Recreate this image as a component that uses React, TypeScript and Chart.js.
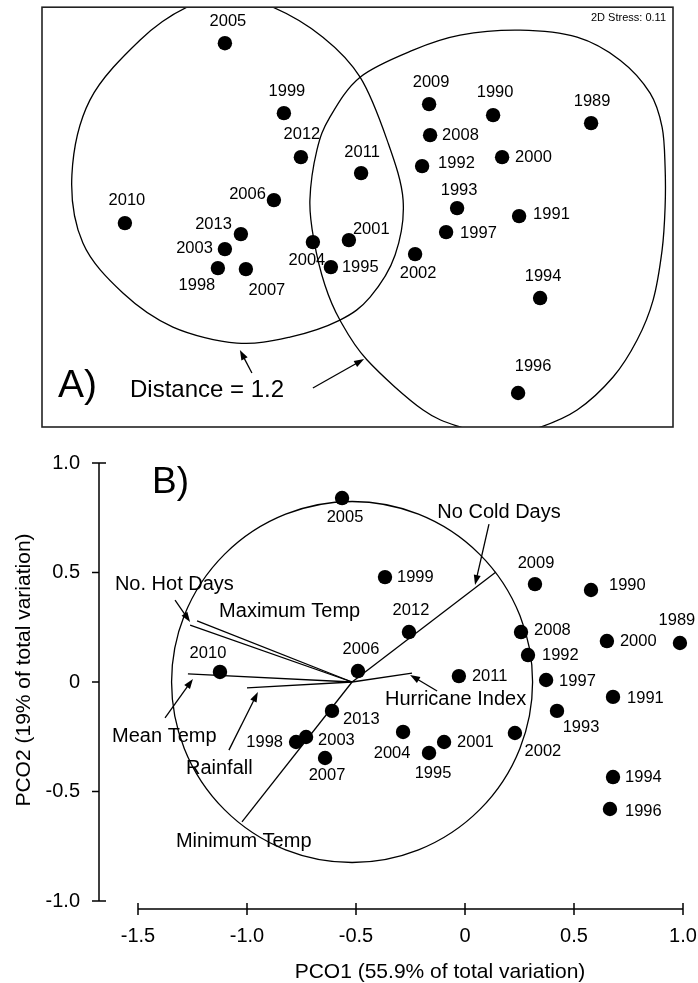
import React, { useEffect, useRef } from 'react';
import { Chart, registerables } from 'chart.js';
Chart.register(...registerables);

const FONT = '"Liberation Sans", Arial, Helvetica, sans-serif';

// ---------------- Panel A (nMDS) data ----------------
const yearsA = ['2005','1999','2012','2011','2006','2010','2013','2003','1998','2007','2004','1995','2001','2009','1990','1989','2008','2000','1992','1993','1991','1997','2002','1994','1996'];
const nmds1 = [-0.663,-0.368,-0.283,0.018,-0.418,-1.163,-0.583,-0.663,-0.698,-0.558,-0.223,-0.133,-0.043,0.358,0.678,1.168,0.363,0.723,0.323,0.498,0.808,0.443,0.288,0.913,0.803];
const nmds2 = [0.87,0.52,0.30,0.22,0.085,-0.03,-0.085,-0.16,-0.255,-0.26,-0.125,-0.25,-0.115,0.565,0.51,0.47,0.41,0.30,0.255,0.045,0.005,-0.075,-0.185,-0.405,-0.88];
const stressText = '2D Stress: 0.11';
// cluster contours at distance 1.2
const leftContourX = [-0.638,-0.423,-0.173,0.013,0.148,0.228,0.188,0.063,-0.088,-0.338,-0.603,-0.923,-1.173,-1.373,-1.428,-1.338,-1.088,-0.853];
const leftContourY = [1.10,1.05,0.90,0.70,0.385,0.085,-0.19,-0.40,-0.515,-0.60,-0.63,-0.55,-0.38,-0.13,0.21,0.585,0.885,1.05];
const rightContourX = [0.813,1.098,1.313,1.463,1.523,1.538,1.538,1.523,1.478,1.398,1.278,1.098,0.903,0.713,0.528,0.328,0.048,-0.088,-0.163,-0.218,-0.238,-0.203,-0.138,0.013,0.278,0.513];
const rightContourY = [0.935,0.90,0.785,0.62,0.45,0.25,0.05,-0.165,-0.415,-0.615,-0.80,-0.965,-1.055,-1.10,-1.055,-0.965,-0.715,-0.515,-0.34,-0.115,0.085,0.335,0.50,0.70,0.835,0.91];
const distanceText = 'Distance = 1.2';
const distArrowFrom = [[-0.528,-0.78],[-0.223,-0.855]];
const distArrowTo = [[-0.588,-0.665],[0.033,-0.71]];

// ---------------- Panel B (PCO) data ----------------
const yearsB = ['2005','1999','2012','2006','2009','1990','2008','2000','1989','1992','2011','1997','1991','1993','2013','2004','2001','1995','2002','1994','1996','2010','1998','2003','2007'];
const pco1 = [-0.564,-0.367,-0.257,-0.491,0.321,0.578,0.257,0.651,0.986,0.289,-0.028,0.372,0.679,0.422,-0.610,-0.284,-0.096,-0.165,0.229,0.679,0.665,-1.124,-0.775,-0.729,-0.642];
const pco2 = [0.840,0.479,0.228,0.050,0.447,0.420,0.228,0.187,0.178,0.123,0.027,0.009,-0.068,-0.132,-0.132,-0.228,-0.274,-0.324,-0.233,-0.434,-0.580,0.046,-0.274,-0.251,-0.347];
const vectorNames = ['No Cold Days','Maximum Temp','No. Hot Days','Mean Temp','Rainfall','Hurricane Index','Minimum Temp'];
const vectorEndX = [0.142,-1.229,-1.261,-1.271,-1.000,-0.243,-1.023];
const vectorEndY = [0.502,0.279,0.260,0.037,-0.027,0.041,-0.639];
const vectorOrigin = [-0.518, 0];
const circleRadius = 0.828;
const xTickValues = [-1.5,-1.0,-0.5,0,0.5,1.0];
const xTickLabels = ['-1.5','-1.0','-0.5','0','0.5','1.0'];
const yTickValues = [1.0,0.5,0,-0.5,-1.0];
const yTickLabels = ['1.0','0.5','0','-0.5','-1.0'];
const xTitle = 'PCO1 (55.9% of total variation)';
const yTitle = 'PCO2 (19% of total variation)';
// annotation labels (text, left x, center y) and arrows (from -> to)
const annTexts = ['No Cold Days','No. Hot Days','Maximum Temp','Hurricane Index','Mean Temp','Rainfall','Minimum Temp'];
const annX = [0.156,-1.606,-1.128,-0.367,-1.619,-1.280,-1.326];
const annY = [0.776,0.443,0.320,-0.082,-0.247,-0.393,-0.726];
const annAlign = ['center','left','left','left','left','left','left'];
const annArrowFrom = [[0.110,0.721],[-1.330,0.374],[-0.128,-0.041],[-1.376,-0.164],[-1.083,-0.311]];
const annArrowTo = [[0.046,0.443],[-1.261,0.274],[-0.252,0.032],[-1.248,0.014],[-0.950,-0.046]];

// ---------------- label placement (style) ----------------
type LP = [number, number, CanvasTextAlign];
const labelPosA: Record<string, LP> = {
  '2005':[3,-22,'center'],'1999':[3,-22,'center'],'2012':[1,-23,'center'],'2011':[1,-21,'center'],
  '2006':[-8,-6,'right'],'2010':[2,-23,'center'],'2013':[-9,-10,'right'],'2003':[-12,-1,'right'],
  '1998':[-21,17,'center'],'2007':[21,21,'center'],'2004':[-6,18,'center'],'1995':[11,0,'left'],
  '2001':[4,-11,'left'],'2009':[2,-22,'center'],'1990':[2,-23,'center'],'1989':[1,-22,'center'],
  '2008':[12,0,'left'],'2000':[13,0,'left'],'1992':[16,-3,'left'],'1993':[2,-18,'center'],
  '1991':[14,-2,'left'],'1997':[14,1,'left'],'2002':[3,19,'center'],'1994':[3,-22,'center'],'1996':[15,-27,'center'],
};
const labelPosB: Record<string, LP> = {
  '2005':[3,19,'center'],'1999':[12,0,'left'],'2012':[2,-22,'center'],'2006':[3,-22,'center'],
  '2009':[1,-21,'center'],'1990':[18,-5,'left'],'2008':[13,-2,'left'],'2000':[13,0,'left'],
  '1989':[-3,-23,'center'],'1992':[14,0,'left'],'2011':[13,0,'left'],'1997':[13,1,'left'],
  '1991':[14,2,'left'],'1993':[24,17,'center'],'2013':[11,9,'left'],'2004':[-11,22,'center'],
  '2001':[13,0,'left'],'1995':[4,20,'center'],'2002':[28,18,'center'],'1994':[12,0,'left'],
  '1996':[15,2,'left'],'2010':[-12,-18,'center'],'1998':[-13,0,'right'],'2003':[12,3,'left'],'2007':[2,17,'center'],
};

function drawArrow(ctx: CanvasRenderingContext2D, x1: number, y1: number, x2: number, y2: number) {
  const a = Math.atan2(y2 - y1, x2 - x1);
  const L = 10, W = 3.5;
  ctx.beginPath();
  ctx.moveTo(x1, y1);
  ctx.lineTo(x2 - (L - 2) * Math.cos(a), y2 - (L - 2) * Math.sin(a));
  ctx.stroke();
  ctx.beginPath();
  ctx.moveTo(x2, y2);
  ctx.lineTo(x2 - L * Math.cos(a) + W * Math.sin(a), y2 - L * Math.sin(a) - W * Math.cos(a));
  ctx.lineTo(x2 - L * Math.cos(a) - W * Math.sin(a), y2 - L * Math.sin(a) + W * Math.cos(a));
  ctx.closePath();
  ctx.fill();
}

function closedSpline(ctx: CanvasRenderingContext2D, pts: number[][]) {
  const n = pts.length;
  ctx.beginPath();
  ctx.moveTo(pts[0][0], pts[0][1]);
  for (let i = 0; i < n; i++) {
    const p0 = pts[(i - 1 + n) % n], p1 = pts[i], p2 = pts[(i + 1) % n], p3 = pts[(i + 2) % n];
    ctx.bezierCurveTo(
      p1[0] + (p2[0] - p0[0]) / 6, p1[1] + (p2[1] - p0[1]) / 6,
      p2[0] - (p3[0] - p1[0]) / 6, p2[1] - (p3[1] - p1[1]) / 6,
      p2[0], p2[1]);
  }
  ctx.closePath();
  ctx.stroke();
}

function drawPointLabels(chart: any, years: string[], pos: Record<string, LP>) {
  const ctx: CanvasRenderingContext2D = chart.ctx;
  const meta = chart.getDatasetMeta(0);
  ctx.save();
  ctx.fillStyle = '#000';
  ctx.font = `16.5px ${FONT}`;
  ctx.textBaseline = 'middle';
  meta.data.forEach((el: any, i: number) => {
    const p = pos[years[i]] || [0, -20, 'center'];
    ctx.textAlign = p[2];
    ctx.fillText(years[i], el.x + p[0], el.y + p[1]);
  });
  ctx.restore();
}

const panelAPlugin = {
  id: 'panelA',
  beforeDatasetsDraw(chart: any) {
    const ctx: CanvasRenderingContext2D = chart.ctx;
    const xs = chart.scales.x, ys = chart.scales.y;
    const ca = chart.chartArea;
    const px = (v: number) => xs.getPixelForValue(v);
    const py = (v: number) => ys.getPixelForValue(v);
    ctx.save();
    ctx.fillStyle = '#fff';
    ctx.fillRect(ca.left, ca.top, ca.right - ca.left, ca.bottom - ca.top);
    // contours clipped to the box
    ctx.save();
    ctx.beginPath();
    ctx.rect(ca.left, ca.top, ca.right - ca.left, ca.bottom - ca.top);
    ctx.clip();
    ctx.strokeStyle = '#000';
    ctx.lineWidth = 1.3;
    closedSpline(ctx, leftContourX.map((x, i) => [px(x), py(leftContourY[i])]));
    closedSpline(ctx, rightContourX.map((x, i) => [px(x), py(rightContourY[i])]));
    ctx.restore();
    // box
    ctx.strokeStyle = '#222';
    ctx.lineWidth = 1.6;
    ctx.strokeRect(ca.left, ca.top, ca.right - ca.left, ca.bottom - ca.top);
    // texts
    ctx.fillStyle = '#000';
    ctx.textBaseline = 'middle';
    ctx.font = `11px ${FONT}`;
    ctx.textAlign = 'right';
    ctx.fillText(stressText, ca.right - 7, ca.top + 11);
    ctx.textAlign = 'left';
    ctx.font = `39px ${FONT}`;
    ctx.fillText('A)', px(-1.4975), py(-0.845));
    ctx.font = `24px ${FONT}`;
    ctx.fillText(distanceText, px(-1.1375), py(-0.865));
    ctx.strokeStyle = '#000';
    ctx.lineWidth = 1.3;
    distArrowFrom.forEach((f, i) => {
      const t = distArrowTo[i];
      drawArrow(ctx, px(f[0]), py(f[1]), px(t[0]), py(t[1]));
    });
    ctx.restore();
  },
  afterDatasetsDraw(chart: any) {
    drawPointLabels(chart, yearsA, labelPosA);
  },
};

const panelBPlugin = {
  id: 'panelB',
  beforeDatasetsDraw(chart: any) {
    const ctx: CanvasRenderingContext2D = chart.ctx;
    const xs = chart.scales.x, ys = chart.scales.y;
    const ca = chart.chartArea;
    const px = (v: number) => xs.getPixelForValue(v);
    const py = (v: number) => ys.getPixelForValue(v);
    ctx.save();
    ctx.strokeStyle = '#000';
    ctx.fillStyle = '#000';
    // axes (detached range frame)
    const yAxisX = ca.left - 39;
    const xAxisY = ca.bottom + 8;
    ctx.lineWidth = 1.5;
    ctx.beginPath();
    ctx.moveTo(yAxisX, py(yTickValues[0]));
    ctx.lineTo(yAxisX, py(yTickValues[yTickValues.length - 1]));
    yTickValues.forEach((v, i) => {
      const end = i === 0 || i === yTickValues.length - 1;
      ctx.moveTo(yAxisX - 7, py(v));
      ctx.lineTo(end ? yAxisX + 7 : yAxisX, py(v));
    });
    ctx.moveTo(px(xTickValues[0]), xAxisY);
    ctx.lineTo(px(xTickValues[xTickValues.length - 1]), xAxisY);
    xTickValues.forEach((v) => {
      ctx.moveTo(px(v), xAxisY - 6);
      ctx.lineTo(px(v), xAxisY + 6);
    });
    ctx.stroke();
    ctx.font = `20px ${FONT}`;
    ctx.textBaseline = 'middle';
    ctx.textAlign = 'right';
    yTickValues.forEach((v, i) => ctx.fillText(yTickLabels[i], yAxisX - 19, py(v)));
    ctx.textAlign = 'center';
    xTickValues.forEach((v, i) => ctx.fillText(xTickLabels[i], px(v), xAxisY + 27));
    ctx.font = `21px ${FONT}`;
    ctx.fillText(xTitle, 440, xAxisY + 63);
    ctx.save();
    ctx.translate(24, py(0) - 12);
    ctx.rotate(-Math.PI / 2);
    ctx.fillText(yTitle, 0, 0);
    ctx.restore();
    // B)
    ctx.textAlign = 'left';
    ctx.font = `37px ${FONT}`;
    ctx.fillText('B)', px(-1.436), py(0.909));
    // circle
    ctx.lineWidth = 1.3;
    const cx = px(vectorOrigin[0]), cy = py(vectorOrigin[1]);
    const r = px(vectorOrigin[0] + circleRadius) - cx;
    ctx.beginPath();
    ctx.arc(cx, cy, r, 0, Math.PI * 2);
    ctx.stroke();
    // vectors
    ctx.lineWidth = 1.3;
    vectorEndX.forEach((x, i) => {
      ctx.beginPath();
      ctx.moveTo(cx, cy);
      ctx.lineTo(px(x), py(vectorEndY[i]));
      ctx.stroke();
    });
    // annotations
    ctx.font = `20px ${FONT}`;
    annTexts.forEach((t, i) => {
      ctx.textAlign = annAlign[i] as CanvasTextAlign;
      ctx.fillText(t, px(annX[i]), py(annY[i]));
    });
    ctx.lineWidth = 1.3;
    annArrowFrom.forEach((f, i) => {
      const t = annArrowTo[i];
      drawArrow(ctx, px(f[0]), py(f[1]), px(t[0]), py(t[1]));
    });
    ctx.restore();
  },
  afterDatasetsDraw(chart: any) {
    drawPointLabels(chart, yearsB, labelPosB);
  },
};

function makeChart(canvas: HTMLCanvasElement, xs: number[], ys: number[], xr: number[], yr: number[], padding: any, plugin: any) {
  return new Chart(canvas, {
    type: 'scatter',
    data: {
      datasets: [{
        data: xs.map((x, i) => ({ x, y: ys[i] })),
        pointRadius: 7.2,
        pointHoverRadius: 7.2,
        backgroundColor: '#000',
        borderColor: '#000',
        borderWidth: 0,
        clip: false as any,
      }],
    },
    options: {
      responsive: false,
      animation: false,
      devicePixelRatio: 1,
      events: [],
      layout: { padding },
      plugins: { legend: { display: false }, tooltip: { enabled: false }, title: { display: false } },
      scales: {
        x: { type: 'linear', min: xr[0], max: xr[1], display: false },
        y: { type: 'linear', min: yr[0], max: yr[1], display: false },
      },
    },
    plugins: [plugin],
  });
}

export default function App() {
  const refA = useRef<HTMLCanvasElement>(null);
  const refB = useRef<HTMLCanvasElement>(null);
  useEffect(() => {
    const a = makeChart(refA.current!, nmds1, nmds2, [-1.5775, 1.5775], [-1.05, 1.05],
      { left: 42, right: 25, top: 7, bottom: 13 }, panelAPlugin);
    const b = makeChart(refB.current!, pco1, pco2, [-1.5, 1.0], [-1.0, 1.0],
      { left: 138, right: 15, top: 23, bottom: 82 }, panelBPlugin);
    return () => { a.destroy(); b.destroy(); };
  }, []);
  return (
    <div style={{ position: 'absolute', left: 0, top: 0, width: 698, height: 983, background: '#fff', overflow: 'hidden' }}>
      <canvas ref={refA} width={698} height={440} style={{ position: 'absolute', left: 0, top: 0 }} />
      <canvas ref={refB} width={698} height={543} style={{ position: 'absolute', left: 0, top: 440 }} />
    </div>
  );
}
